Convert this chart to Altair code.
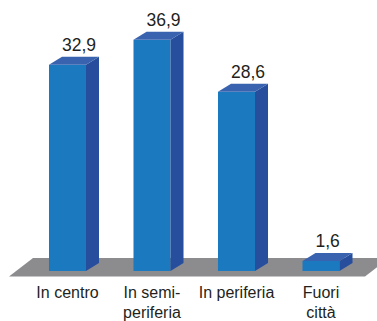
import altair as alt
import pandas as pd

categories = ["In centro", "In semi-\nperiferia", "In periferia", "Fuori\ncittà"]
values = [32.9, 36.9, 28.6, 1.6]
value_labels = ["32,9", "36,9", "28,6", "1,6"]

# layout constants (in scale units: 1 x-unit = one category step)
HALF = 0.219      # half width of the front face
DX = 0.154        # depth offset along x
DY = 1.276        # depth offset along y
FONT = "Liberation Sans"
TEXT = "#231f20"

front_rows, side_rows, top_rows, lab_rows, cat_rows = [], [], [], [], []
for i, (c, v, lab) in enumerate(zip(categories, values, value_labels)):
    L, R = i - HALF, i + HALF
    front_rows.append({"cat": c, "x": L, "x2": R, "y": 0, "y2": v})
    side_rows += [{"cat": c, "x": R, "y": v, "y2": 0},
                  {"cat": c, "x": R + DX, "y": v + DY, "y2": DY}]
    top_rows += [{"cat": c, "y": v, "x": L, "x2": R},
                 {"cat": c, "y": v + DY, "x": L + DX, "x2": R + DX}]
    lab_rows.append({"x": L + DX, "y": v + 2.23, "t": lab})
    cat_rows.append({"x": i, "y": -4.31, "t": c})

n = len(categories)
floor_rows = [{"y": -0.877, "x": -0.692, "x2": n - 1 + 0.521},
              {"y": 2.073, "x": -0.408, "x2": n - 1 + 0.805}]

xs = alt.Scale(domain=[-0.7988, 3.6627], nice=False, zero=False)
ys = alt.Scale(domain=[-7.974, 43.22], nice=False, zero=False)

floor = alt.Chart(pd.DataFrame(floor_rows)).mark_area(
    orient="horizontal", color="#8c8c8f", clip=True
).encode(
    y=alt.Y("y:Q", scale=ys, axis=None),
    x=alt.X("x:Q", scale=xs, axis=None),
    x2="x2:Q",
)

front = alt.Chart(pd.DataFrame(front_rows)).mark_rect(color="#1b79bf").encode(
    x=alt.X("x:Q", scale=xs, axis=None), x2="x2:Q",
    y=alt.Y("y:Q", scale=ys, axis=None), y2="y2:Q",
)

side = alt.Chart(pd.DataFrame(side_rows)).mark_area(color="#274e9d").encode(
    x=alt.X("x:Q", scale=xs, axis=None),
    y=alt.Y("y:Q", scale=ys, axis=None), y2="y2:Q",
    detail="cat:N",
)

top = alt.Chart(pd.DataFrame(top_rows)).mark_area(
    orient="horizontal", color="#3a63af"
).encode(
    y=alt.Y("y:Q", scale=ys, axis=None),
    x=alt.X("x:Q", scale=xs, axis=None), x2="x2:Q",
    detail="cat:N",
)

vlabels = alt.Chart(pd.DataFrame(lab_rows)).mark_text(
    align="left", baseline="alphabetic", font=FONT, fontSize=17.5, color=TEXT
).encode(
    x=alt.X("x:Q", scale=xs, axis=None),
    y=alt.Y("y:Q", scale=ys, axis=None),
    text="t:N",
)

clabels = alt.Chart(pd.DataFrame(cat_rows)).mark_text(
    align="center", baseline="alphabetic", font=FONT, fontSize=16,
    color=TEXT, lineBreak="\n", lineHeight=20
).encode(
    x=alt.X("x:Q", scale=xs, axis=None),
    y=alt.Y("y:Q", scale=ys, axis=None),
    text="t:N",
)

chart = alt.layer(floor, front, side, top, vlabels, clabels).properties(
    width=377, height=321, padding=0,
    autosize=alt.AutoSizeParams(type="none"),
    background="white",
).configure_view(stroke=None)

chart.save("out.html", embed_options={"renderer": "svg", "actions": False})
